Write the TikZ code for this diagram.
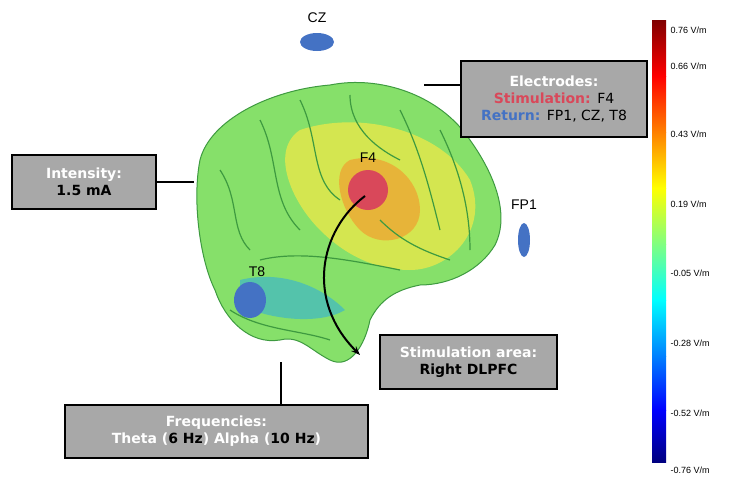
\documentclass[tikz,border=0pt]{standalone}
\usepackage{fontspec}
\usetikzlibrary{arrows.meta}
\setmainfont{DejaVu Sans}
\newfontfamily\labfont{Liberation Sans}
\definecolor{boxgray}{HTML}{A8A8A8}
\definecolor{stimred}{HTML}{D9485A}
\definecolor{retblue}{HTML}{4472C4}
\definecolor{brain}{HTML}{86E06A}
\definecolor{brainy}{HTML}{E8E84A}
\definecolor{braino}{HTML}{F0A030}
\definecolor{sulc}{HTML}{3E9A40}
\definecolor{jr}{HTML}{800000}\definecolor{jr2}{HTML}{FF0000}\definecolor{jo}{HTML}{FF8000}
\definecolor{jy}{HTML}{FFFF00}\definecolor{jg}{HTML}{80FF80}\definecolor{jc}{HTML}{00FFFF}
\definecolor{jb}{HTML}{0080FF}\definecolor{jb2}{HTML}{0000FF}\definecolor{jn}{HTML}{000080}
\begin{document}
\begin{tikzpicture}[x=1pt,y=-1pt,
  infobox/.style={draw=black,line width=1.8pt,fill=boxgray,align=center,font=\bfseries\fontsize{14}{17}\selectfont,inner sep=3pt},
  lead/.style={line width=1.4pt},
  elab/.style={font=\labfont\fontsize{14}{15}\selectfont},
  tick/.style={font=\labfont\fontsize{9}{10}\selectfont,anchor=west}]
\useasboundingbox (0,0) rectangle (734,490);
% brain
\draw[sulc,line width=1pt,fill=brain] (330,85) .. controls (380,75) and (440,95) .. (470,140)
  .. controls (495,175) and (510,215) .. (495,245)
  .. controls (480,270) and (450,285) .. (420,285)
  .. controls (395,290) and (380,300) .. (370,320)
  .. controls (365,345) and (350,370) .. (330,360)
  .. controls (310,350) and (300,335) .. (280,340)
  .. controls (250,345) and (225,320) .. (215,290)
  .. controls (200,260) and (192,200) .. (200,160)
  .. controls (210,120) and (270,90) .. (330,85) -- cycle;
\fill[brainy,opacity=0.8] (300,130) .. controls (360,110) and (440,130) .. (470,180) .. controls (490,230) and (450,270) .. (410,270) .. controls (370,270) and (340,250) .. (320,230) .. controls (290,200) and (270,150) .. (300,130) -- cycle;
\fill[braino,opacity=0.7] (350,160) .. controls (390,150) and (420,180) .. (420,210) .. controls (420,240) and (380,250) .. (360,230) .. controls (340,210) and (330,170) .. (350,160) -- cycle;
\fill[cyan!60!brain,opacity=0.7] (240,280) .. controls (280,270) and (320,285) .. (345,310) .. controls (320,325) and (270,320) .. (240,305) -- cycle;
\foreach \p in {
 {(220,170) .. controls (240,200) and (230,230) .. (250,250)},
 {(260,120) .. controls (280,160) and (270,200) .. (300,230)},
 {(300,100) .. controls (320,140) and (310,180) .. (340,200)},
 {(350,95) .. controls (350,130) and (380,150) .. (400,160)},
 {(400,110) .. controls (420,150) and (430,190) .. (440,230)},
 {(440,130) .. controls (460,170) and (470,210) .. (470,250)},
 {(260,260) .. controls (300,250) and (350,260) .. (400,270)},
 {(230,310) .. controls (260,330) and (300,330) .. (330,340)},
 {(380,220) .. controls (400,240) and (420,250) .. (450,260)}}
 \draw[sulc,line width=1.2pt] \p;
% electrodes
\fill[retblue] (317,42) ellipse[x radius=17,y radius=9];
\node[elab] (czl) at (317,18) {CZ};
\fill[stimred] (368,190) circle[radius=20];
\node[elab] (f4l) at (368,158) {F4};
\fill[retblue] (524,240) ellipse[x radius=6,y radius=17];
\node[elab] (fp1l) at (524,205) {FP1};
\fill[retblue] (250,300) ellipse[x radius=16,y radius=18];
\node[elab] (t8l) at (257,272) {T8};
% arrow
\coordinate (as) at (365,196);
\coordinate (ae) at (360,355);
\draw[line width=2pt,-{Stealth[length=9pt]}] (as) .. controls (320,230) and (305,300) .. (ae);
% boxes
\node[infobox,minimum width=186pt,minimum height=76pt] (elec) at (554,99) {\textcolor{white}{Electrodes:}\\ \textcolor{stimred}{Stimulation:} \mdseries F4\\ \textcolor{retblue}{Return:} \mdseries FP1, CZ, T8};
\node[infobox,minimum width=144pt,minimum height=54pt] (inten) at (84,182) {\textcolor{white}{Intensity:}\\1.5 mA};
\node[infobox,minimum width=177pt,minimum height=54pt] (area) at (468.5,362) {\textcolor{white}{Stimulation area:}\\Right DLPFC};
\node[infobox,minimum width=303pt,minimum height=53pt] (freq) at (216.5,431.5) {\textcolor{white}{Frequencies:}\\ \textcolor{white}{Theta (}6 Hz\textcolor{white}{) Alpha (}10 Hz\textcolor{white}{)}};
\coordinate (e1) at (424,85);
\coordinate (i1) at (194,182);
\coordinate (f1) at (281,362);
\draw[lead] (e1) -- (e1 -| elec.west);
\draw[lead] (inten.east) -- (i1);
\draw[lead] (f1) -- (f1 |- freq.north);
% colorbar
\shade[top color=jr,bottom color=jr2] (652,20) rectangle (666,76);
\shade[top color=jr2,bottom color=jo] (652,76) rectangle (666,132);
\shade[top color=jo,bottom color=jy] (652,132) rectangle (666,188);
\shade[top color=jy,bottom color=jg] (652,188) rectangle (666,244);
\shade[top color=jg,bottom color=jc] (652,244) rectangle (666,300);
\shade[top color=jc,bottom color=jb] (652,300) rectangle (666,356);
\shade[top color=jb,bottom color=jb2] (652,356) rectangle (666,410);
\shade[top color=jb2,bottom color=jn] (652,410) rectangle (666,462);
\foreach \v/\y in {0.76/30,0.66/66,0.43/134,0.19/204,-0.05/273,-0.28/343,-0.52/413,-0.76/470}
  \node[tick] at (667,\y) {\v\ V/m};
\end{tikzpicture}
\end{document}
